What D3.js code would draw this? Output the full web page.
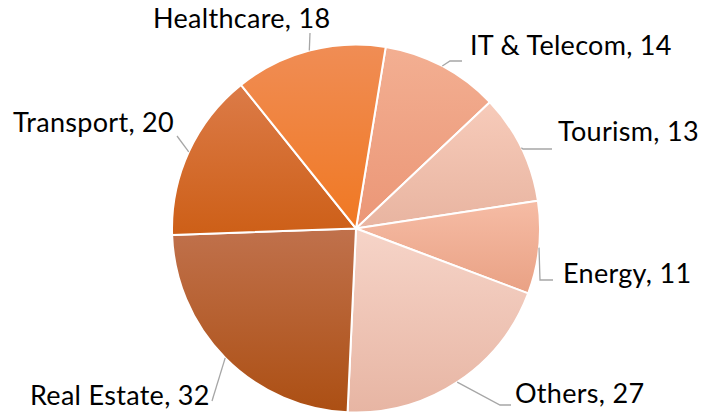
<!DOCTYPE html>
<html>
<head>
<meta charset="utf-8">
<script src="https://cdn.jsdelivr.net/npm/d3@7"></script>
<style>
  body { margin: 0; background: #fff; }
  text { font-family: Lato, "Open Sans", sans-serif; font-size: 27px; letter-spacing: 0.3px; fill: #000; }
</style>
</head>
<body>
<svg id="chart"></svg>
<script>
// data, clockwise from the start angle
var sectors = ["IT & Telecom", "Tourism", "Energy", "Others", "Real Estate", "Transport", "Healthcare"];
var values  = [14, 13, 11, 27, 32, 20, 18];
// gradient colours per slice (top, bottom)
var topColors    = ["#f3af92", "#f7cbba", "#f6bca5", "#f6d4c8", "#c0714c", "#dc7b48", "#f08d55"];
var bottomColors = ["#eb9676", "#e8b4a0", "#e9a184", "#e7b5a3", "#ac4f13", "#cd5f17", "#f07822"];

// label layout: text left/baseline, then leader points after the edge point
var labelPos = [[470, 55], [558, 141], [563, 283], [515, 403], [30, 405], [13, 132], [153, 28]];
var leaderPts = [
    [[450, 61], [462, 61]],
    [[523, 149], [552, 149]],
    [[540, 280], [553, 280]],
    [[500, 405], [511, 405]],
    [[212, 401]],
    [[177, 136]],
    [[310, 33]]
];

var width = 717, height = 413;
var cx = 356, cy = 228.5, radius = 184;
var startAngle = 9.3 * Math.PI / 180;

var svg = d3.select("#chart")
    .attr("width", width)
    .attr("height", height);

var defs = svg.append("defs");
sectors.forEach(function(s, i) {
    var g = defs.append("linearGradient")
        .attr("id", "grad" + i)
        .attr("x1", 0).attr("y1", 0)
        .attr("x2", 0).attr("y2", 1);
    g.append("stop").attr("offset", "0%").attr("stop-color", topColors[i]);
    g.append("stop").attr("offset", "100%").attr("stop-color", bottomColors[i]);
});

var pie = d3.pie()
    .sort(null)
    .value(function(d) { return d; })
    .startAngle(startAngle)
    .endAngle(startAngle + 2 * Math.PI);

var arc = d3.arc().innerRadius(0).outerRadius(radius);

var arcs = pie(values);

var g = svg.append("g")
    .attr("transform", "translate(" + cx + "," + cy + ")");

g.selectAll("path")
    .data(arcs)
    .enter()
    .append("path")
    .attr("d", arc)
    .attr("fill", function(d, i) { return "url(#grad" + i + ")"; })
    .attr("stroke", "#fff")
    .attr("stroke-width", 2)
    .attr("stroke-linejoin", "round");

// leader lines start on the rim at the middle of each slice
var line = d3.line();
svg.selectAll("path.leader")
    .data(arcs)
    .enter()
    .append("path")
    .attr("class", "leader")
    .attr("fill", "none")
    .attr("stroke", "#a6a6a6")
    .attr("stroke-width", 1.3)
    .attr("d", function(d, i) {
        var a = (d.startAngle + d.endAngle) / 2;
        var p0 = [cx + radius * Math.sin(a), cy - radius * Math.cos(a)];
        return line([p0].concat(leaderPts[i]));
    });

svg.selectAll("text.label")
    .data(arcs)
    .enter()
    .append("text")
    .attr("class", "label")
    .attr("x", function(d, i) { return labelPos[i][0]; })
    .attr("y", function(d, i) { return labelPos[i][1]; })
    .text(function(d, i) { return sectors[i] + ", " + values[i]; });
</script>
</body>
</html>
